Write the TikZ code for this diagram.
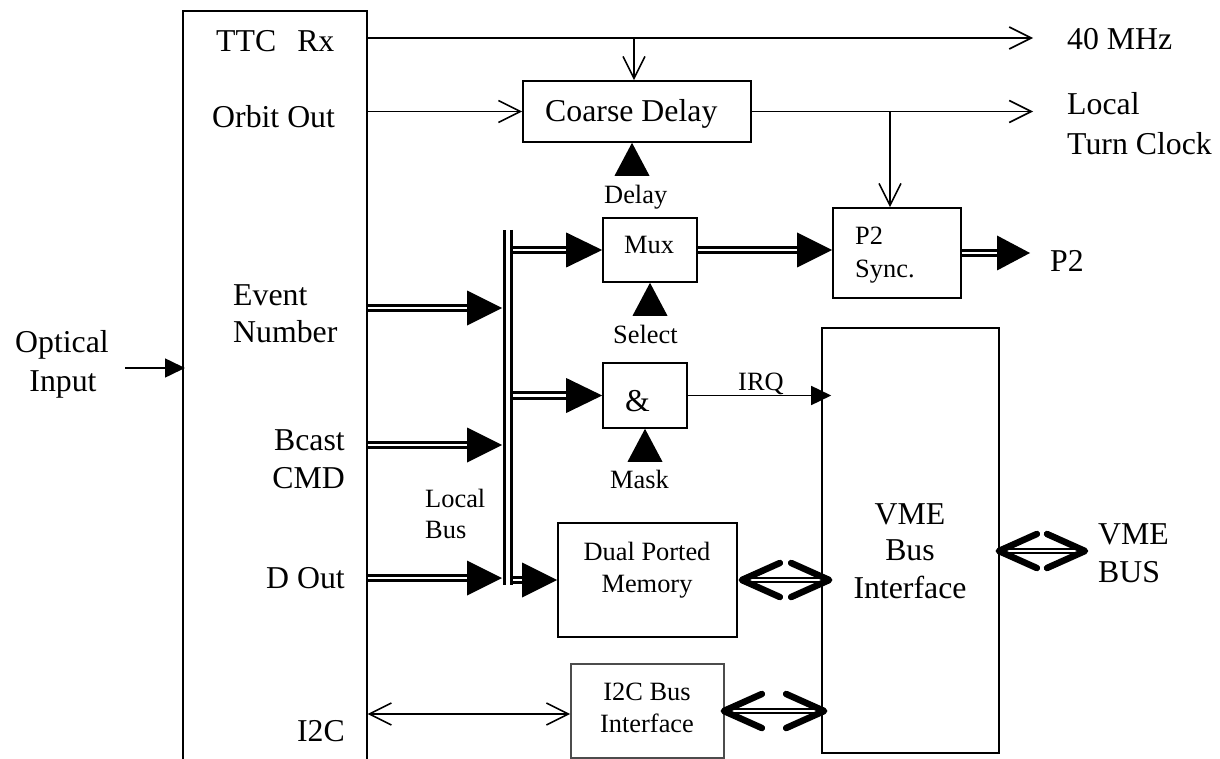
\documentclass[tikz,border=0pt]{standalone}
\usepackage{fontspec}
\setmainfont{Liberation Serif}
\usetikzlibrary{arrows.meta,calc}

\tikzset{
  box/.style={draw, line width=1.6pt, inner sep=0pt},
  bigtxt/.style={font=\fontsize{31.8}{38}\selectfont, inner sep=0pt},
  smalltxt/.style={font=\fontsize{26.4}{31}\selectfont, inner sep=0pt},
  sig/.style={line width=1.6pt},
  openarrow/.style={sig, -{Straight Barb[length=22pt,width=22pt]}},
  bothopen/.style={sig, {Straight Barb[length=22pt,width=22pt]}-{Straight Barb[length=22pt,width=22pt]}},
  solidarrow/.style={sig, -{Triangle[length=20pt,width=19pt]}},
  bus/.style={line width=2.7pt, double=white, double distance=2.8pt},
  vbus/.style={line width=3pt, double=white, double distance=3.5pt},
  thinbus/.style={line width=1.6pt, double=white, double distance=2.2pt},
  chev/.style={line width=6.5pt, line cap=round, line join=round},
}

% double shaft ending in a solid head pointing right
\newcommand\busarrow[3]{%
  \draw[bus] (#1) -- ($(#2)+(-#3+3,0)$);
  \fill ($(#2)+(-#3,-17.5)$) -- (#2) -- ($(#2)+(-#3,17.5)$) -- cycle;}
% heavy two-way bus link with chevron heads
\newcommand\chevlink[2]{%
  \draw[thinbus] (#1) -- (#2);
  \draw[chev] ($(#1)+(38,-17)$) -- (#1) -- ($(#1)+(38,17)$);
  \draw[chev] ($(#2)+(-38,-17)$) -- (#2) -- ($(#2)+(-38,17)$);}
% solid control triangle under a block
\newcommand\ctrltri[1]{\fill (#1) -- ++(-17.5,33) -- ++(35,0) -- cycle;}

\begin{document}
\begin{tikzpicture}[x=1pt,y=-1pt]
\path[use as bounding box] (0,0) rectangle (1220,759);

% ---- blocks ----
\begin{scope}
  \clip (0,0) rectangle (1220,759);
  \node[box, minimum width=184pt, minimum height=800pt, anchor=north west] (ttc) at (182,10) {};
\end{scope}
\node[box, minimum width=228pt, minimum height=61pt] (cd) at (637,111.5) {};
\node[box, minimum width=94pt, minimum height=64pt] (mux) at (650,250) {};
\node[box, minimum width=128pt, minimum height=90pt] (p2s) at (897,253) {};
\node[box, minimum width=84pt, minimum height=65pt] (and) at (645,395.5) {};
\node[box, minimum width=177pt, minimum height=425pt] (vme) at (910.5,540.5) {};
\node[box, minimum width=179pt, minimum height=114pt] (dpm) at (647.5,580) {};
\node[box, draw=black!70, minimum width=153pt, minimum height=94pt] (i2cb) at (647.5,711) {};

% ---- labels ----
\node[bigtxt, anchor=base west] (tTTC) at (216,52) {TTC\hspace{21pt}Rx};
\node[bigtxt, anchor=base west] (tOrb) at (212,128) {Orbit Out};
\node[bigtxt, anchor=base west] (tEv1) at (233,305) {Event};
\node[bigtxt, anchor=base west] (tEv2) at (233,342) {Number};
\node[bigtxt, anchor=base east] (tBc1) at (345,450) {Bcast};
\node[bigtxt, anchor=base east] (tBc2) at (345,488) {CMD};
\node[bigtxt, anchor=base east] (tDo) at (345,588) {D Out};
\node[bigtxt, anchor=base east] (tI2C) at (345,741) {I2C};
\node[bigtxt, anchor=base] (tOp1) at (62,352) {Optical};
\node[bigtxt, anchor=base] (tOp2) at (63,391) {Input};
\node[smalltxt, anchor=base west] (tLb1) at (425,507) {Local};
\node[smalltxt, anchor=base west] (tLb2) at (425,538) {Bus};
\node[bigtxt, anchor=base west] (t40) at (1067,50) {40 MHz};
\node[bigtxt, anchor=base west] (tLt1) at (1067,115) {Local};
\node[bigtxt, anchor=base west] (tLt2) at (1067,155) {Turn Clock};
\node[bigtxt, anchor=base west] (tCd) at (545,122) {Coarse Delay};
\node[smalltxt, anchor=base west] (tDel) at (604,204) {Delay};
\node[smalltxt, anchor=base west] (tMux) at (624,254) {Mux};
\node[smalltxt, anchor=base west] (tSel) at (613,343) {Select};
\node[bigtxt, anchor=base west] (tAnd) at (625,411) {\&};
\node[smalltxt, anchor=base west] (tMask) at (610,488) {Mask};
\node[smalltxt, anchor=base west] (tIrq) at (738,390) {IRQ};
\node[smalltxt, anchor=base west] (tPs1) at (855,245) {P2};
\node[smalltxt, anchor=base west] (tPs2) at (855,277) {Sync.};
\node[bigtxt, anchor=base west] (tP2) at (1050,272) {P2};
\node[smalltxt, anchor=base] (tDp1) at (647,560) {Dual Ported};
\node[smalltxt, anchor=base] (tDp2) at (647,592) {Memory};
\node[smalltxt, anchor=base] (tIb1) at (647,700) {I2C Bus};
\node[smalltxt, anchor=base] (tIb2) at (647,732) {Interface};
\node[bigtxt, anchor=base] (tVm1) at (910,524) {VME};
\node[bigtxt, anchor=base] (tVm2) at (910,560) {Bus};
\node[bigtxt, anchor=base] (tVm3) at (910,598) {Interface};
\node[bigtxt, anchor=base west] (tVb1) at (1098,544) {VME};
\node[bigtxt, anchor=base west] (tVb2) at (1098,582) {BUS};

% ---- clock and orbit signals ----
\coordinate (clkend) at (1033,38);
\coordinate (cdtap) at (634,38);
\coordinate (ltcend) at (1033,111.5);
\coordinate (p2tap) at (890,111.5);
\draw[openarrow] (ttc.east |- clkend) -- (clkend);
\draw[openarrow] (cdtap) -- (cdtap |- cd.north);
\draw[openarrow] (ttc.east |- cd.west) -- (cd.west);
\draw[openarrow] (cd.east) -- (ltcend);
\draw[openarrow] (p2tap) -- (p2tap |- p2s.north);

% ---- optical input ----
\coordinate (optin) at (125,368);
\draw[solidarrow] (optin) -- ($(optin -| ttc.west)+(3,0)$);

% ---- local bus ----
\coordinate (lbtop) at (508,230);
\coordinate (lbbot) at (508,585);
\coordinate (busR) at (513,230);
\draw[vbus] (lbtop) -- (lbbot);

\coordinate (evIn) at (502,308);
\coordinate (bcIn) at (502,445);
\coordinate (doIn) at (502,578);
\busarrow{ttc.east |- evIn}{evIn}{35}
\busarrow{ttc.east |- bcIn}{bcIn}{35}
\busarrow{ttc.east |- doIn}{doIn}{35}
\busarrow{busR |- mux.west}{mux.west}{36}
\busarrow{busR |- and.west}{and.west}{36}
\busarrow{busR |- dpm.west}{dpm.west}{35}
\busarrow{mux.east}{p2s.west |- mux.east}{35}
\coordinate (p2out) at (1030,253);
\busarrow{p2s.east}{p2out}{33}

% ---- control inputs ----
\coordinate (delayIn) at ($(cd.south)+(-5,0)$);
\ctrltri{delayIn}
\ctrltri{mux.south}
\ctrltri{and.south}

% ---- interrupt ----
\draw[solidarrow] (and.east) -- ($(vme.west |- and.east)+(10,0)$);

% ---- I2C ----
\coordinate (i2cL) at ($(ttc.east |- i2cb.west)+(0,3)$);
\coordinate (i2cR) at ($(i2cb.west)+(0,3)$);
\draw[bothopen] (i2cL) -- (i2cR);

% ---- VME side links ----
\coordinate (dA) at ($(dpm.east)+(4,0)$);
\coordinate (dB) at ($(vme.west |- dpm.east)+(8,0)$);
\chevlink{dA}{dB}
\coordinate (iA) at ($(i2cb.east)+(-1,0)$);
\coordinate (iB) at ($(vme.west |- i2cb.east)+(3,0)$);
\chevlink{iA}{iB}
\coordinate (vA) at ($(vme.east)+(-1,10.5)$);
\coordinate (vB) at (1085,551);
\chevlink{vA}{vB}
\end{tikzpicture}
\end{document}
